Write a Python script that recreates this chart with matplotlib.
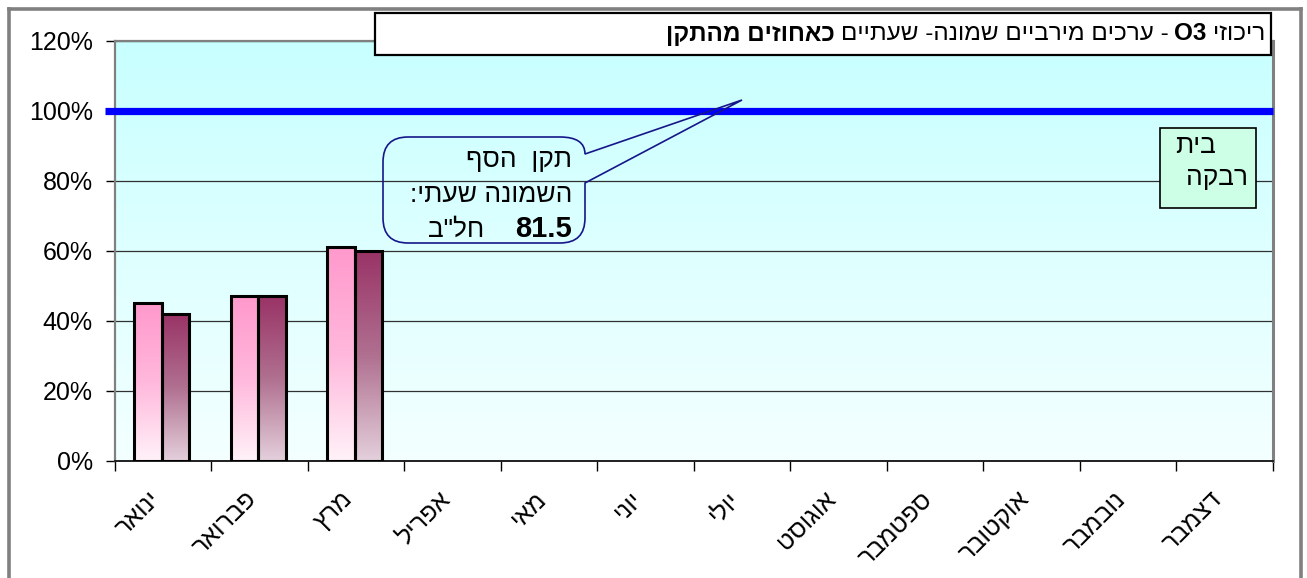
import numpy as np
import matplotlib
matplotlib.use('Agg')
import matplotlib.pyplot as plt
from matplotlib.colors import LinearSegmentedColormap
from matplotlib.patches import Rectangle, PathPatch
from matplotlib.path import Path
from matplotlib.lines import Line2D
from matplotlib.transforms import offset_copy

# ---------------- data ----------------
months = ['ינואר', 'פברואר', 'מרץ', 'אפריל', 'מאי', 'יוני', 'יולי',
          'אוגוסט', 'ספטמבר', 'אוקטובר', 'נובמבר', 'דצמבר']
series_a = [45, 47, 61]   # light pink bars
series_b = [42, 47, 60]   # dark bars
standard_pct = 100
yticks = [0, 20, 40, 60, 80, 100, 120]
title_parts = [('ריכוזי', 'normal'), ('O3', 'bold'),
               ('- ערכים מירביים שמונה- שעתיים', 'normal'),
               ('כאחוזים מהתקן', 'bold')]
callout_lines = ['תקן  הסף', 'השמונה שעתי:']
callout_value = '81.5'
callout_unit = 'חל"ב'
station = ['בית', 'רבקה']

W, H = 1307, 578
FONT = ['Liberation Sans', 'DejaVu Sans']
plt.rcParams['font.family'] = FONT


def rtl(s):
    return s[::-1]


def fx(x):
    return x / W


def fy(y):
    return 1 - y / H


fig = plt.figure(figsize=(W / 100, H / 100), dpi=100)
fig.patch.set_facecolor('white')

# outer frame
frame_kw = dict(color='#808080', lw=2.6, transform=fig.transFigure)
fig.add_artist(Line2D([fx(9), fx(9)], [fy(9), fy(590)], **frame_kw))
fig.add_artist(Line2D([fx(9), fx(1301)], [fy(9), fy(9)], **frame_kw))
fig.add_artist(Line2D([fx(1301), fx(1301)], [fy(9), fy(590)], **frame_kw))

ax = fig.add_axes([fx(114.5), fy(461), (1273 - 114.5) / W, (461 - 40.7) / H])

# background gradient
bg = LinearSegmentedColormap.from_list('bg', ['#F4FFFF', '#C8FFFF'])
ax.imshow(np.linspace(0, 1, 256).reshape(-1, 1), extent=[0, 12, 0, 120],
          origin='lower', cmap=bg, aspect='auto', zorder=0)

cm_a = LinearSegmentedColormap.from_list('a', ['#FFF2F8', '#FFB8DC', '#FF99CC'])
cm_b = LinearSegmentedColormap.from_list('b', ['#E4D0DC', '#B07090', '#993366'])
grad = np.linspace(0, 1, 256).reshape(-1, 1)

bw = 0.285
for vals, off, cmap in [(series_a, -bw / 2, cm_a), (series_b, bw / 2, cm_b)]:
    xs = np.arange(len(vals)) + 0.49 + off
    bars = ax.bar(xs, vals, width=bw, color='none', edgecolor='black',
                  linewidth=2.2, zorder=4)
    for b in bars:
        x0, w, h = b.get_x(), b.get_width(), b.get_height()
        im = ax.imshow(grad, extent=[x0, x0 + w, 0, h], origin='lower',
                       cmap=cmap, aspect='auto', zorder=3)
        clip = Rectangle((x0, 0), w, h, transform=ax.transData)
        im.set_clip_path(clip)

# standard line
ax.axhline(standard_pct, xmin=-0.0086, xmax=1, color='#0000FF', lw=5.2,
           clip_on=False, zorder=5, solid_capstyle='butt')

ax.set_xlim(0, 12)
ax.set_ylim(0, 120)
ax.set_yticks(yticks)
ax.set_yticklabels([f'{v}%' for v in yticks], fontsize=18)
ax.set_xticks(range(13))
ax.set_xticklabels([])
ax.tick_params(axis='y', direction='out', length=6.5, width=1, pad=9)
ax.tick_params(axis='x', direction='out', length=7, width=1)
ax.yaxis.grid(True, color='#303030', lw=0.9)
ax.set_axisbelow(True)
for side in ['left', 'top']:
    ax.spines[side].set_color('#808080')
    ax.spines[side].set_linewidth(1.6)
ax.spines['right'].set_color('#808080')
ax.spines['right'].set_linewidth(2.2)
ax.spines['bottom'].set_color('#202020')
ax.spines['bottom'].set_linewidth(1.4)

lab_tr = offset_copy(ax.get_xaxis_transform(), fig=fig, x=-15, y=-26, units='dots')
for i, m in enumerate(months):
    ax.text(i + 0.5, 0, rtl(m), transform=lab_tr, rotation=45,
            rotation_mode='anchor', ha='right', va='top', fontsize=18)

# title box
fig.add_artist(Rectangle((fx(375), fy(55)), (1271 - 375) / W, (55 - 13) / H,
                         transform=fig.transFigure, facecolor='white',
                         edgecolor='black', lw=1.6, zorder=6))
renderer = fig.canvas.get_renderer()
xr = 1265
gap = 6
for txt, wt in title_parts:
    s = txt if wt == 'bold' and txt.isascii() else rtl(txt)
    t = fig.text(fx(xr), fy(34), s, ha='right', va='center', fontsize=17.5,
                 fontweight=wt, zorder=7)
    bb = t.get_window_extent(renderer=renderer)
    xr = xr - bb.width - gap

# callout
r = 25
verts = [(383 + r, 137), (585 - r, 137), (585, 137), (585, 154), (742, 100),
         (585, 183), (585, 243 - r), (585, 243), (585 - r, 243), (383 + r, 243),
         (383, 243), (383, 243 - r), (383, 137 + r), (383, 137), (383 + r, 137)]
codes = [Path.MOVETO, Path.LINETO, Path.CURVE3, Path.CURVE3, Path.LINETO,
         Path.LINETO, Path.LINETO, Path.CURVE3, Path.CURVE3, Path.LINETO,
         Path.CURVE3, Path.CURVE3, Path.LINETO, Path.CURVE3, Path.CURVE3]
path = Path([(fx(x), fy(y)) for x, y in verts], codes)
fig.add_artist(PathPatch(path, transform=fig.transFigure, facecolor='none',
                         edgecolor='#16168A', lw=1.2, zorder=6))
fig.text(fx(572), fy(167), rtl(callout_lines[0]), ha='right', va='baseline',
         fontsize=19, zorder=7)
fig.text(fx(572), fy(202), rtl(callout_lines[1]), ha='right', va='baseline',
         fontsize=19, zorder=7)
fig.text(fx(572), fy(237), callout_value, ha='right', va='baseline',
         fontsize=21, fontweight='bold', zorder=7)
fig.text(fx(484), fy(237), rtl(callout_unit), ha='right', va='baseline',
         fontsize=19, zorder=7)

# station box
fig.add_artist(Rectangle((fx(1160), fy(208)), (1256 - 1160) / W, (208 - 128) / H,
                         transform=fig.transFigure, facecolor='#CCFFE5',
                         edgecolor='black', lw=1.2, zorder=6))
fig.text(fx(1175), fy(153), rtl(station[0]), ha='left', va='baseline',
         fontsize=19, zorder=7)
fig.text(fx(1248), fy(185), rtl(station[1]), ha='right', va='baseline',
         fontsize=19, zorder=7)

fig.savefig('out.png', dpi=100)
